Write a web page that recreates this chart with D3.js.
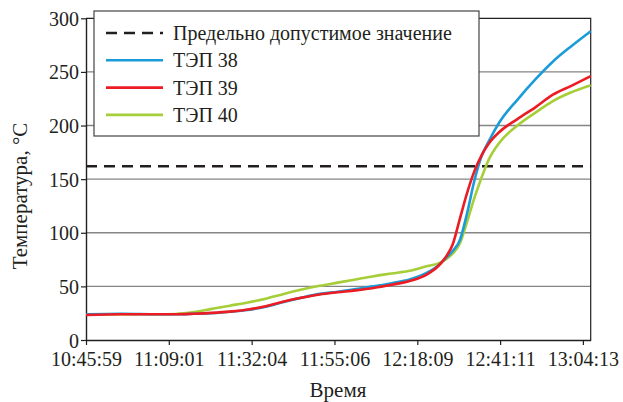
<!DOCTYPE html>
<html><head><meta charset="utf-8">
<script src="https://cdn.jsdelivr.net/npm/d3@7"></script>
</head><body style="margin:0;background:#fff">
<svg id="c" width="623" height="402" font-family="Liberation Serif"><text x="338" y="397" text-anchor="middle" font-size="21" font-family="Liberation Serif" fill="#231f20">Время</text></svg>
<script>
// minutes since 10:45:59
const minutes = [0,10,20,25,30,35,40,45,50,55,60,65,70,75,80,85,90,95,98,100,102,104,106,108,110,112,115,120,125,130,135,140.4];
const tep38 = [24,24.5,24,24,24.5,25,26.3,28,31,35.5,39.5,43,45,47.5,50,53,56.5,63,69.5,76,83,93,118,148,171,185,203,224,243,260,274,288];
const tep39 = [23.3,24,24,24,24.5,25.3,26.5,28.5,31.5,36,39.5,42.5,44.5,46.3,48.5,51.5,55,61.5,69,77,89,113,137,157,172,183,194,206,217,229,237,246];
const tep40 = [24,24,24,24.3,26,29,32,35,38.5,43,47,50.5,53.5,56.5,59.5,62,64.5,69,71.5,75,80.5,90,110,132,151,168,184,200,212,223,231,237.6];
const limitValue = 162;
const xTickMinutes = [0,23.03,46.08,69.12,92.17,115.2,138.23];
const xTickLabels = ["10:45:59","11:09:01","11:32:04","11:55:06","12:18:09","12:41:11","13:04:13"];
const yTicks = [0,50,100,150,200,250,300];
const seriesNames = ["ТЭП 38","ТЭП 39","ТЭП 40"];
const seriesColors = ["#1b9bd7","#ec1c24","#a6ce39"];
const limitName = "Предельно допустимое значение";

const INK = "#231f20";
const svg = d3.select("#c");
const L=86, R=590.7, T=18.3, B=340;
const x = d3.scaleLinear().domain([0,140.4]).range([L,R]);
const y = d3.scaleLinear().domain([0,300]).range([B,T]);

svg.append("g").selectAll("line").data(yTicks.filter(v=>v>0&&v<300)).join("line")
  .attr("x1",L).attr("x2",R).attr("y1",d=>y(d)).attr("y2",d=>y(d))
  .attr("stroke","#858585").attr("stroke-width",1.4);
svg.append("path").attr("d",`M${L},${T}H${R}V${B}`).attr("fill","none").attr("stroke",INK).attr("stroke-width",1.2);

const xa = svg.append("g").attr("transform",`translate(0,${B})`)
  .call(d3.axisBottom(x).tickValues(xTickMinutes).tickFormat((d,i)=>xTickLabels[i]).tickSize(5).tickSizeOuter(0))
  .attr("font-family","Liberation Serif").attr("font-size",20);
const ya = svg.append("g").attr("transform",`translate(${L},0)`)
  .call(d3.axisLeft(y).tickValues(yTicks).tickSize(5).tickSizeOuter(0))
  .attr("font-family","Liberation Serif").attr("font-size",20);
[xa,ya].forEach(a=>{
  a.select(".domain").attr("stroke",INK).attr("stroke-width",1.4);
  a.selectAll(".tick line").attr("stroke",INK).attr("stroke-width",1.2);
  a.selectAll("text").attr("fill",INK);});
xa.selectAll("text").attr("dy",null).attr("y",26);
ya.selectAll("text").attr("dy","0.35em").attr("x",-7);

svg.append("line").attr("x1",L).attr("x2",R).attr("y1",y(limitValue)).attr("y2",y(limitValue))
  .attr("stroke",INK).attr("stroke-width",2.6).attr("stroke-dasharray","11,7");

const line = d3.line().x((d,i)=>x(minutes[i])).y(d=>y(d)).curve(d3.curveMonotoneX);
[[tep40,2],[tep38,0],[tep39,1]].forEach(([s,idx])=>{
  svg.append("path").attr("d",line(s)).attr("fill","none").attr("stroke",seriesColors[idx]).attr("stroke-width",2.6);
});

const lg = svg.append("g");
lg.append("rect").attr("x",94).attr("y",11).attr("width",385).attr("height",125).attr("fill","#fff").attr("stroke","#444").attr("stroke-width",1.2);
const rows=[{n:limitName,c:INK,dash:"11,7"}].concat(seriesNames.map((n,i)=>({n,c:seriesColors[i],dash:null})));
rows.forEach((r,i)=>{
  const yy=33+i*27.3;
  lg.append("line").attr("x1",106).attr("x2",163).attr("y1",yy).attr("y2",yy).attr("stroke",r.c).attr("stroke-width",2.6).attr("stroke-dasharray",r.dash);
  lg.append("text").attr("x",173).attr("y",yy+7).attr("font-family","Liberation Serif").attr("font-size",20).attr("fill",INK).text(r.n);
});

svg.append("text").attr("transform","translate(27,196) rotate(-90)").attr("text-anchor","middle").attr("font-family","Liberation Serif").attr("font-size",21).attr("fill",INK).text("Температура, °C");
</script></body></html>
